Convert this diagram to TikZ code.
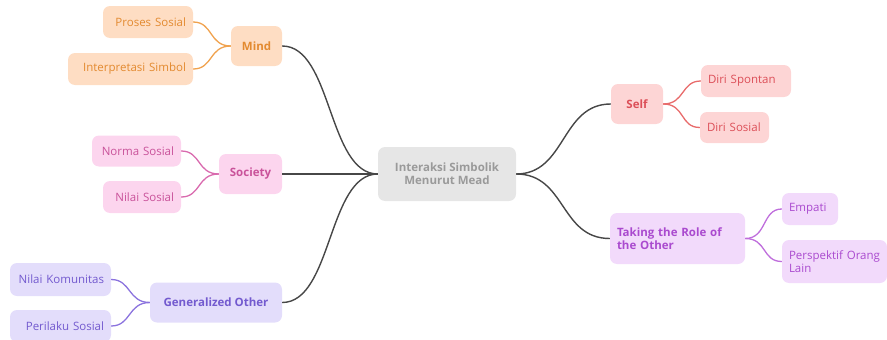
\documentclass[tikz,border=0pt]{standalone}
\usepackage{fontspec}
\setmainfont{Open Sans}
\begin{document}
\begin{tikzpicture}[x=1pt,y=-1pt,
  box/.style={rounded corners=7pt, inner sep=0pt, font=\fontsize{11.5}{13}\selectfont},
  mid/.style={box, font=\fontsize{11.5}{13}\selectfont\bfseries},
  ctr/.style={box, fill=ctrfill, text=ctrtext, font=\fontsize{11.5}{13}\selectfont\bfseries, align=center},
  link/.style={line width=1.4pt, draw=linkc},
  br/.style={line width=1.3pt}
]
\definecolor{ctrfill}{HTML}{E6E6E6}\definecolor{ctrtext}{HTML}{9A9A9A}
\definecolor{linkc}{HTML}{474747}
\definecolor{orf}{HTML}{FEDDC3}\definecolor{ort}{HTML}{E38A30}\definecolor{orl}{HTML}{F0A24E}
\definecolor{pkf}{HTML}{FCD5EE}\definecolor{pkt}{HTML}{C9529A}\definecolor{pkl}{HTML}{D96AAE}
\definecolor{puf}{HTML}{E3DDFB}\definecolor{put}{HTML}{735ACF}\definecolor{pul}{HTML}{8B73DE}
\definecolor{rdf}{HTML}{FDD5D5}\definecolor{rdt}{HTML}{DC4F58}\definecolor{rdl}{HTML}{E86B6B}
\definecolor{vif}{HTML}{F2DAFB}\definecolor{vit}{HTML}{AA4ACF}\definecolor{vil}{HTML}{BF6EDC}
\useasboundingbox (0,0) rectangle (887,340);

% center
\node[ctr, minimum width=138, minimum height=54] (c) at (447,174) {Interaksi Simbolik\\Menurut Mead};

% Mind
\node[mid, fill=orf, text=ort, minimum width=51, minimum height=40] (mind) at (256.5,46) {Mind};
\node[box, fill=orf, text=ort, minimum height=32, text width=76, align=right, inner xsep=7pt] (ps) at (148,22) {Proses Sosial};
\node[box, fill=orf, text=ort, minimum height=32, text width=111, align=right, inner xsep=7pt] (is) at (130.5,69) {Interpretasi Simbol};

% Society
\node[mid, fill=pkf, text=pkt, minimum width=63, minimum height=40] (soc) at (250.5,174) {Society};
\node[box, fill=pkf, text=pkt, minimum height=31, text width=75, align=right, inner xsep=7pt] (ns) at (136.5,151) {Norma Sosial};
\node[box, fill=pkf, text=pkt, minimum height=32, text width=64, align=right, inner xsep=7pt] (nis) at (142,197) {Nilai Sosial};

% Generalized Other
\node[mid, fill=puf, text=put, minimum width=132, minimum height=40] (go) at (216,302.5) {Generalized Other};
\node[box, fill=puf, text=put, minimum height=33, text width=87, align=right, inner xsep=7pt] (nk) at (60.5,279.5) {Nilai Komunitas};
\node[box, fill=puf, text=put, minimum height=32, text width=87, align=right, inner xsep=7pt] (pls) at (60.5,326) {Perilaku Sosial};

% Self
\node[mid, fill=rdf, text=rdt, minimum width=52, minimum height=40] (self) at (637,104) {Self};
\node[box, fill=rdf, text=rdt, minimum height=32, text width=76, align=left, inner xsep=7pt] (ds) at (746,81) {Diri Spontan};
\node[box, fill=rdf, text=rdt, minimum height=31, text width=63, align=left, inner xsep=3pt] (dso) at (734.5,127.5) {\hspace*{4pt}Diri Sosial};

% Taking the role
\node[mid, fill=vif, text=vit, minimum height=51, text width=121, align=left, inner xsep=7pt] (tr) at (677.5,238.5) {Taking the Role of\\the Other};
\node[box, fill=vif, text=vit, minimum height=32, text width=42, align=left, inner xsep=7pt] (em) at (810,209) {Empati};
\node[box, fill=vif, text=vit, minimum height=43, text width=91, align=left, inner xsep=7pt] (po) at (834.5,261.5) {Perspektif Orang\\Lain};

% main links
\draw[link] (c.west) .. controls +(-50,0) and +(50,0) .. (mind.east);
\draw[link] (c.west) .. controls +(-50,0) and +(50,0) .. (soc.east);
\draw[link] (c.west) .. controls +(-50,0) and +(50,0) .. (go.east);
\draw[link] (c.east) .. controls +(50,0) and +(-50,0) .. (self.west);
\draw[link] (c.east) .. controls +(50,0) and +(-50,0) .. (tr.west);

% branches
\draw[br, orl] (mind.west) .. controls +(-22,0) and +(20,0) .. (ps.east);
\draw[br, orl] (mind.west) .. controls +(-22,0) and +(20,0) .. (is.east);
\draw[br, pkl] (soc.west) .. controls +(-22,0) and +(20,0) .. (ns.east);
\draw[br, pkl] (soc.west) .. controls +(-22,0) and +(20,0) .. (nis.east);
\draw[br, pul] (go.west) .. controls +(-22,0) and +(20,0) .. (nk.east);
\draw[br, pul] (go.west) .. controls +(-22,0) and +(20,0) .. (pls.east);
\draw[br, rdl] (self.east) .. controls +(22,0) and +(-20,0) .. (ds.west);
\draw[br, rdl] (self.east) .. controls +(22,0) and +(-20,0) .. (dso.west);
\draw[br, vil] (tr.east) .. controls +(22,0) and +(-20,0) .. (em.west);
\draw[br, vil] (tr.east) .. controls +(22,0) and +(-20,0) .. (po.west);
\end{tikzpicture}
\end{document}
